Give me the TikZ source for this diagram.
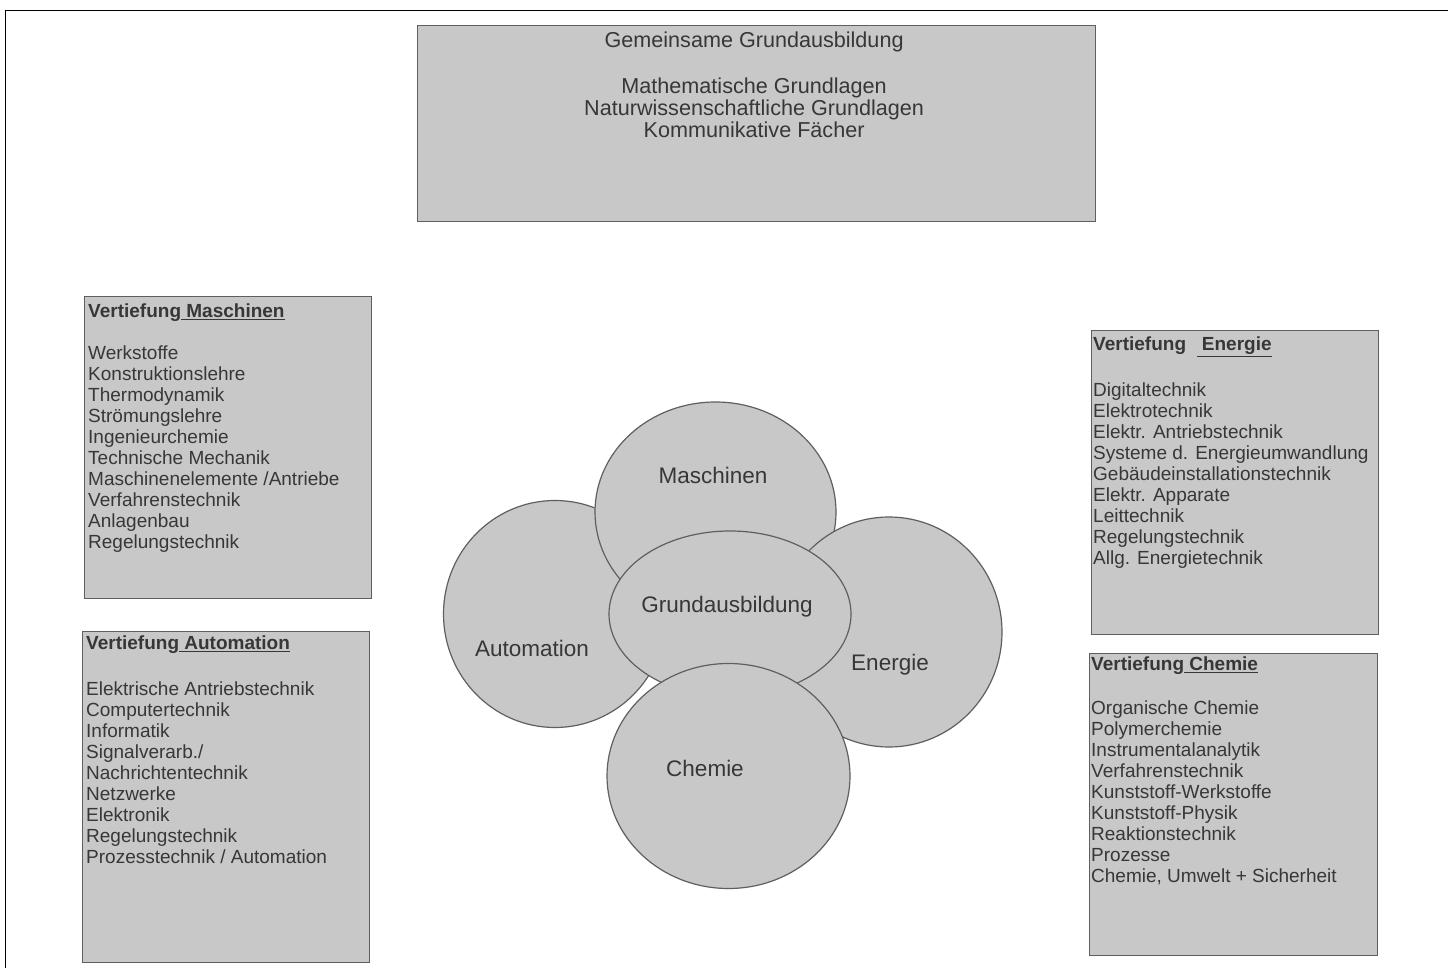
\documentclass[tikz,border=0pt]{standalone}
\usepackage{fontspec}
\setmainfont{Liberation Sans}
\usetikzlibrary{shapes.geometric}
\definecolor{boxfill}{RGB}{200,200,200}
\definecolor{boxline}{RGB}{95,95,95}
\definecolor{txt}{RGB}{55,55,55}
\begin{document}
\begin{tikzpicture}[x=1pt,y=-1pt,
  panel/.style={draw=boxline,fill=boxfill,line width=1.2pt,anchor=north west,inner sep=0pt},
  blob/.style={draw=boxline,fill=boxfill,line width=1.2pt,ellipse,inner sep=0pt},
  listtxt/.style={anchor=north west,align=left,text=txt,inner sep=0pt,font=\fontsize{19}{21}\selectfont},
  toptxt/.style={anchor=north,align=center,text=txt,inner sep=0pt,font=\fontsize{21.6}{22}\selectfont},
  blobtxt/.style={text=txt,inner sep=0pt,font=\fontsize{22.5}{24}\selectfont}]
\useasboundingbox (0,0) rectangle (1448,968);
\fill[white] (0,0) rectangle (1448,968);
% page frame
\coordinate (fa) at (5.5,968);
\coordinate (fb) at (5.5,10.5);
\coordinate (fc) at (1448,10.5);
\draw[line width=1.5pt,black] (fa) -- (fb) -- (fc);
% top box
\node[panel,minimum width=678pt,minimum height=196pt] (top) at (417,25) {};
\node[toptxt] (toptext) at ([shift={(-2.5,7)}]top.north) {Gemeinsame Grundausbildung\\[24pt]Mathematische Grundlagen\\Naturwissenschaftliche Grundlagen\\Kommunikative Fächer};
% left boxes
\node[panel,minimum width=287pt,minimum height=302pt] (bm) at (84,296) {};
\node[listtxt] (tm) at ([shift={(4,8)}]bm.north west) {\textbf{Vertiefung\underline{\ Maschinen}}\\[21pt]Werkstoffe\\Konstruktionslehre\\Thermodynamik\\Strömungslehre\\Ingenieurchemie\\Technische Mechanik\\Maschinenelemente /Antriebe\\Verfahrenstechnik\\Anlagenbau\\Regelungstechnik};
\node[panel,minimum width=287pt,minimum height=331pt] (ba) at (82,631) {};
\node[listtxt] (ta) at ([shift={(4,5)}]ba.north west) {\textbf{Vertiefung\underline{\ Automation}}\\[25pt]Elektrische Antriebstechnik\\Computertechnik\\Informatik\\Signalverarb./\\Nachrichtentechnik\\Netzwerke\\Elektronik\\Regelungstechnik\\Prozesstechnik / Automation};
% right boxes
\node[panel,minimum width=287pt,minimum height=304pt] (be) at (1091,330) {};
\node[listtxt] (te) at ([shift={(2,7)}]be.north west) {\textbf{Vertiefung\ \ \underline{\ Energie}}\\[25pt]Digitaltechnik\\Elektrotechnik\\Elektr. Antriebstechnik\\Systeme d. Energieumwandlung\\Gebäudeinstallationstechnik\\Elektr. Apparate\\Leittechnik\\Regelungstechnik\\Allg. Energietechnik};
\node[panel,minimum width=288pt,minimum height=302pt] (bc) at (1089,653) {};
\node[listtxt] (tc) at ([shift={(2,4)}]bc.north west) {\textbf{Vertiefung\underline{\ Chemie}}\\[23pt]Organische Chemie\\Polymerchemie\\Instrumentalanalytik\\Verfahrenstechnik\\Kunststoff-Werkstoffe\\Kunststoff-Physik\\Reaktionstechnik\\Prozesse\\Chemie, Umwelt + Sicherheit};
% circles
\node[blob,minimum width=223pt,minimum height=227pt] (ca) at (555,614) {};
\node[blob,minimum width=241pt,minimum height=220pt] (cm) at (715.5,512) {};
\node[blob,minimum width=226pt,minimum height=230pt] (ce) at (889,632) {};
\node[blob,minimum width=242pt,minimum height=166pt] (cg) at (730,614) {};
\node[blob,minimum width=243pt,minimum height=225pt] (cc) at (728.5,776) {};
\node[blobtxt] (la) at (532,648) {Automation};
\node[blobtxt] (lm) at (713,475) {Maschinen};
\node[blobtxt] (le) at (890,665) {Energie};
\node[blobtxt] (lg) at (727,607) {Grundausbildung};
\node[blobtxt] (lc) at (705,768) {Chemie};
\end{tikzpicture}
\end{document}
